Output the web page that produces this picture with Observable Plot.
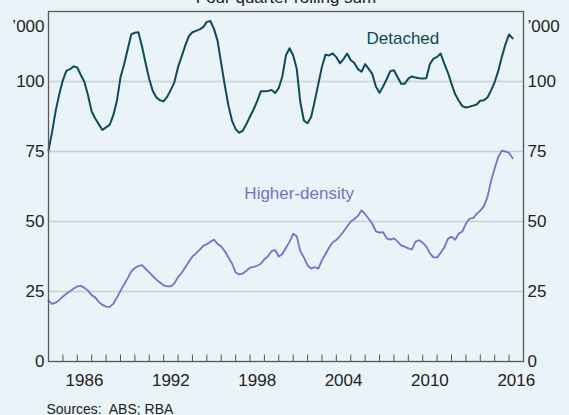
<!DOCTYPE html>
<html>
<head>
<meta charset="utf-8">
<script src="https://cdn.jsdelivr.net/npm/d3@7"></script>
<script src="https://cdn.jsdelivr.net/npm/@observablehq/plot@0.6"></script>
<style>
  body { margin: 0; background: #eaf3f7; }
  #chart { width: 569px; height: 415px; overflow: hidden; background: #eaf3f7; }
</style>
</head>
<body>
<div id="chart"></div>
<script>
// Quarterly data, first quarter = 1984 Q1, thousands of dwellings (four-quarter rolling sum)
const startYear = 1984;
const detached = [
  75.4, 81.9, 89.5, 95.5, 100.5, 103.9, 104.4, 105.4, 105.0, 102.3,
  99.8, 95.0, 89.3, 86.8, 84.7, 82.7, 83.6, 84.5, 87.9, 93.0,
  101.5, 106.0, 111.4, 116.8, 117.4, 117.6, 112.5, 106.5, 100.8, 96.6,
  94.3, 93.3, 92.9, 94.6, 97.0, 99.8, 105.2, 108.9, 112.8, 116.2,
  117.6, 118.1, 118.6, 119.4, 121.3, 121.6, 118.8, 114.5, 106.5, 98.6,
  91.5, 86.0, 83.0, 81.7, 82.4, 84.8, 87.5, 90.0, 93.0, 96.5,
  96.5, 96.6, 97.0, 95.9, 97.7, 101.9, 109.4, 111.9, 109.3, 104.5,
  92.5, 86.0, 85.1, 87.3, 93.0, 99.2, 105.3, 109.6, 109.3, 110.0,
  108.7, 106.5, 108.0, 110.0, 107.6, 106.6, 104.4, 103.5, 106.2, 104.5,
  102.7, 98.1, 96.0, 98.2, 100.8, 103.7, 104.0, 101.6, 99.2, 99.2,
  101.0, 101.8, 101.4, 101.2, 101.1, 101.2, 106.2, 108.2, 108.8, 110.0,
  106.4, 103.2, 99.2, 95.5, 93.2, 91.2, 90.7, 91.0, 91.4, 91.8,
  93.1, 93.3, 94.3, 96.8, 99.8, 103.7, 108.8, 113.3, 116.8, 115.4
];
const higherDensity = [
  21.8, 20.6, 21.0, 22.0, 23.2, 24.2, 25.1, 26.1, 26.8, 27.0,
  26.3, 25.3, 23.7, 22.9, 21.3, 20.2, 19.6, 19.5, 20.6, 22.8,
  25.2, 27.5, 29.7, 32.2, 33.4, 34.1, 34.4, 33.1, 31.8, 30.5,
  29.2, 28.2, 27.2, 26.8, 26.8, 27.9, 30.2, 31.6, 33.6, 35.6,
  37.5, 38.6, 39.9, 41.3, 41.9, 42.8, 43.5, 42.0, 41.1, 39.4,
  37.2, 35.0, 31.8, 31.1, 31.4, 32.4, 33.5, 33.8, 34.2, 34.9,
  36.5, 37.6, 39.4, 39.8, 37.5, 38.4, 40.6, 42.8, 45.6, 44.7,
  39.4, 37.1, 34.3, 33.2, 33.7, 33.2, 36.2, 38.4, 40.7, 42.6,
  43.4, 44.8, 46.4, 48.2, 50.0, 50.9, 52.0, 54.0, 52.6, 51.0,
  49.2, 46.5, 46.0, 46.2, 44.0, 43.5, 44.0, 42.9, 41.5, 41.0,
  40.4, 40.0, 42.8, 43.3, 42.4, 41.1, 38.6, 37.2, 37.2, 38.8,
  40.7, 43.8, 44.6, 43.5, 45.6, 46.4, 49.2, 51.0, 51.2, 52.7,
  53.9, 55.5, 58.7, 64.5, 69.0, 73.0, 75.3, 75.0, 74.5, 72.6
];
const seriesNames = ["Detached", "Higher-density"];
const yTicks = [0, 25, 50, 75, 100];
const xTickYears = [1986, 1992, 1998, 2004, 2010, 2016];
const unitLabel = "’000";
const titleText = "Four quarter rolling sum";
const sourceText = "Sources:\u00a0 ABS; RBA";

const quarterDate = i => new Date(Date.UTC(startYear, 3 * i, 1));
const rows = [
  ...detached.map((v, i) => ({date: quarterDate(i), value: v, series: seriesNames[0]})),
  ...higherDensity.map((v, i) => ({date: quarterDate(i), value: v, series: seriesNames[1]}))
];
const yearStarts = d3.range(1985, 2017).map(y => new Date(Date.UTC(y, 0, 1)));
const midYears = xTickYears.map(y => new Date(Date.UTC(y, 6, 2)));

const colDet = "#0d4b5c";
const colHD = "#7871c4";
const font = "'Liberation Sans', Arial, sans-serif";

const chart = Plot.plot({
  width: 569,
  height: 415,
  marginLeft: 48,
  marginRight: 46,
  marginTop: 11,
  marginBottom: 54,
  style: {background: "transparent", fontFamily: font, fontSize: "17px", color: "#222"},
  x: {type: "utc", domain: [new Date(Date.UTC(1984, 0, 1)), new Date(Date.UTC(2017, 0, 1))], label: null},
  y: {domain: [0, 125], label: null},
  marks: [
    Plot.ruleY(yTicks.filter(d => d > 0), {stroke: "#c8d0d4", strokeWidth: 1.5}),
    Plot.line(rows.filter(d => d.series === seriesNames[1]), {x: "date", y: "value", stroke: colHD, strokeWidth: 1.8}),
    Plot.line(rows.filter(d => d.series === seriesNames[0]), {x: "date", y: "value", stroke: colDet, strokeWidth: 2}),
    Plot.ruleX(yearStarts, {x: d => d, insetTop: 343.5, stroke: "#555", strokeWidth: 1}),
    Plot.frame({stroke: "#5a5a5a", strokeWidth: 1.3}),
    Plot.axisX(midYears, {anchor: "bottom", tickSize: 0, tickPadding: 12, tickFormat: d => String(d.getUTCFullYear()), fontSize: 17, fill: "#222"}),
    Plot.axisY(yTicks, {anchor: "left", tickSize: 0, tickPadding: 4, fontSize: 17, fill: "#222"}),
    Plot.axisY(yTicks, {anchor: "right", tickSize: 0, tickPadding: 4, fontSize: 17, fill: "#222"}),
    Plot.text([unitLabel], {frameAnchor: "top-left", textAnchor: "end", dx: -4, dy: 8, fontSize: 17, fill: "#222"}),
    Plot.text([unitLabel], {frameAnchor: "top-right", textAnchor: "start", dx: 4, dy: 8, fontSize: 17, fill: "#222"}),
    Plot.text([titleText], {frameAnchor: "top", lineAnchor: "bottom", dy: -9, fontSize: 17, fill: "#222"}),
    Plot.text([sourceText], {frameAnchor: "bottom-left", textAnchor: "start", lineAnchor: "bottom", dx: -2, dy: 52, fontSize: 14, fill: "#222"}),
    Plot.text([{date: new Date(Date.UTC(2008, 7, 15)), value: 115.5, label: seriesNames[0]}], {x: "date", y: "value", text: "label", fill: colDet, fontSize: 17}),
    Plot.text([{date: new Date(Date.UTC(2001, 5, 1)), value: 60, label: seriesNames[1]}], {x: "date", y: "value", text: "label", fill: colHD, fontSize: 17})
  ]
});
document.getElementById("chart").appendChild(chart);
</script>
</body>
</html>
